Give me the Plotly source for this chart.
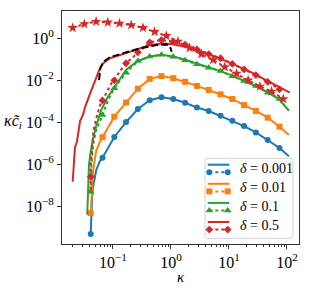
import numpy as np
import plotly.graph_objects as go

# ---------------- data ----------------
kappa_grid = [0.0413, 0.0659, 0.1054, 0.168, 0.269, 0.430, 0.686, 1.096, 1.75,
              2.80, 4.47, 7.14, 11.4, 18.2, 29.1, 46.5, 74.3]

# delta = 0.001
blue_line_k = [0.0413, 0.0418, 0.0422, 0.0435, 0.0452, 0.048, 0.0515, 0.059,
               0.0659, 0.1054, 0.168, 0.269, 0.430, 0.686, 1.096, 1.75, 2.80,
               4.47, 7.14, 11.4, 18.2, 29.1, 46.5, 74.3, 108]
blue_line = [4.8e-10, 1.58e-9, 6.8e-9, 2.5e-8, 7.9e-8, 2.5e-7, 5.4e-7, 1.35e-6,
             2.04e-6, 2.0e-5, 1.02e-4, 4.27e-4, 1.12e-3, 1.55e-3, 1.29e-3, 8.5e-4,
             5.1e-4, 3.47e-4, 2.04e-4, 1.2e-4, 6.6e-5, 3.3e-5, 1.45e-5, 6.0e-6, 2.4e-6]
blue_mark = [4.8e-10, 2.04e-6, 2.0e-5, 1.02e-4, 4.27e-4, 1.12e-3, 1.55e-3, 1.29e-3,
             8.5e-4, 5.1e-4, 3.47e-4, 2.04e-4, 1.2e-4, 6.6e-5, 3.3e-5, 1.45e-5, 6.0e-6]

# delta = 0.01
orange_line_k = [0.0413, 0.0422, 0.0435, 0.0452, 0.048, 0.0515, 0.059,
                 0.0659, 0.1054, 0.168, 0.269, 0.430, 0.686, 1.096, 1.75, 2.80,
                 4.47, 7.14, 11.4, 18.2, 29.1, 46.5, 74.3, 108]
orange_line = [4.7e-9, 1.5e-8, 7.9e-8, 4.0e-7, 1.4e-6, 4.5e-6, 1.12e-5,
               1.95e-5, 1.86e-4, 8.7e-4, 3.98e-3, 1.17e-2, 1.58e-2, 1.26e-2, 8.5e-3,
               5.4e-3, 3.47e-3, 2.14e-3, 1.29e-3, 6.6e-4, 3.47e-4, 1.66e-4, 6.2e-5, 2.5e-5]
orange_mark = [4.7e-9, 1.95e-5, 1.86e-4, 8.7e-4, 3.98e-3, 1.17e-2, 1.58e-2, 1.26e-2,
               8.5e-3, 5.4e-3, 3.47e-3, 2.14e-3, 1.29e-3, 6.6e-4, 3.47e-4, 1.66e-4, 6.2e-5]

# delta = 0.1
green_line_k = [0.036, 0.0371, 0.0386, 0.0413, 0.0452, 0.0515, 0.0628, 0.082, 0.107,
                0.139, 0.1695, 0.269, 0.430, 0.686, 1.096, 1.75, 2.80, 4.47, 7.14,
                11.4, 18.2, 29.1, 46.5, 74.3, 108]
green_line = [4.0e-9, 1.0e-7, 1.0e-6, 4.0e-6, 1.58e-5, 7.1e-5, 3.9e-4, 1.66e-3, 5.0e-3,
              1.48e-2, 3.16e-2, 8.3e-2, 0.135, 0.166, 0.138, 9.5e-2, 6.3e-2, 4.17e-2,
              2.75e-2, 1.66e-2, 9.5e-3, 5.2e-3, 2.63e-3, 1.2e-3, 3.55e-4]
green_dot_k = [0.0413, 0.0426, 0.0452, 0.051, 0.0659, 0.082, 0.1054, 0.168, 0.269,
               0.430, 0.686, 1.096, 1.75, 2.80, 4.47, 7.14, 11.4, 18.2, 29.1, 46.5, 74.3]
green_dot = [5.0e-8, 1.0e-6, 7.9e-6, 4.0e-5, 2.24e-4, 1.12e-3, 4.2e-3, 2.29e-2, 8.3e-2,
             0.135, 0.166, 0.132, 9.1e-2, 5.75e-2, 3.98e-2, 2.75e-2, 1.58e-2, 9.3e-3,
             5.4e-3, 2.57e-3, 1.29e-3]
green_mark = [5.0e-8, 2.24e-4, 4.2e-3, 2.29e-2, 8.3e-2, 0.135, 0.166, 0.132, 9.1e-2,
              5.75e-2, 3.98e-2, 2.75e-2, 1.58e-2, 9.3e-3, 5.4e-3, 2.57e-3, 1.29e-3]

# delta = 0.5
red_line_k = [0.0202, 0.0207, 0.0213, 0.0221, 0.024, 0.027, 0.0308, 0.0328, 0.0401,
              0.0457, 0.0523, 0.0562, 0.0597, 0.068, 0.0887, 0.132, 0.224, 0.406,
              0.692, 1.028, 1.74, 3.38, 5.74, 10.4, 23.0, 50.9, 112.0]
red_line = [1.48e-7, 6.3e-7, 1.58e-6, 6.3e-6, 1.26e-5, 1.12e-4, 2.5e-4, 5.0e-4, 2.24e-3,
            6.3e-3, 1.48e-2, 2.5e-2, 3.7e-2, 6.5e-2, 0.112, 0.158, 0.263, 0.457,
            0.562, 0.537, 0.398, 0.229, 0.132, 6.9e-2, 2.57e-2, 8.5e-3, 2.6e-3]
red_dot_k = [0.0410, 0.0413, 0.0418, 0.044, 0.0457, 0.0523, 0.0597, 0.0659, 0.082,
             0.0938, 0.1054, 0.13, 0.168, 0.269, 0.430, 0.686, 1.096, 1.75, 2.80,
             4.47, 7.14, 11.4, 18.2, 29.1, 46.5, 74.3]
red_dot = [6.3e-8, 2.57e-7, 1.32e-6, 6.9e-6, 3.5e-5, 1.86e-4, 6.3e-4, 1.1e-3, 3.5e-3,
           7.2e-3, 1.0e-2, 2.57e-2, 6.5e-2, 0.214, 0.646, 0.83, 0.69, 0.50, 0.295,
           0.178, 0.112, 6.0e-2, 3.3e-2, 1.78e-2, 8.5e-3, 3.7e-3]
red_mark = [2.57e-7, 1.1e-3, 1.0e-2, 6.5e-2, 0.214, 0.646, 0.83, 0.69, 0.50, 0.295,
            0.178, 0.112, 6.0e-2, 3.3e-2, 1.78e-2, 8.5e-3, 3.7e-3]

# extra delta = 0.5 series (stars) and black dashed curve
star_k = [0.0202, 0.0321, 0.0512, 0.0813, 0.1295, 0.206, 0.328, 0.521, 0.83, 1.32,
          2.10, 3.34, 5.32, 8.47, 13.5, 21.4, 34.1, 54.2, 86.3]
star_y = [3.16, 4.8, 6.2, 5.75, 5.1, 4.27, 3.16, 2.04, 1.32, 0.71, 0.347, 0.178,
          9.3e-2, 4.27e-2, 2.09e-2, 1.0e-2, 5.1e-3, 2.95e-3, 1.29e-3]
black_k = [0.0574, 0.059, 0.0609, 0.068, 0.0887, 0.151, 0.292, 0.567, 0.843, 0.962, 1.028]
black_y = [1.02e-2, 2.5e-2, 4.0e-2, 7.6e-2, 0.126, 0.195, 0.331, 0.479, 0.513, 0.398, 0.229]

legend_labels = ["0.001", "0.01", "0.1", "0.5"]
colors = ["#1f77b4", "#ff7f0e", "#2ca02c", "#d62728"]
symbols = ["circle", "square", "triangle-up", "diamond"]
msizes = [6, 6, 7, 6]

x_ticks = [0.1, 1, 10, 100]
x_ticktext = ["10<sup>−1</sup>", "10<sup>0</sup>", "10<sup>1</sup>", "10<sup>2</sup>"]
y_ticks = [1, 1e-2, 1e-4, 1e-6, 1e-8]
y_ticktext = ["10<sup>0</sup>", "10<sup>−2</sup>", "10<sup>−4</sup>", "10<sup>−6</sup>", "10<sup>−8</sup>"]

# ---------------- figure ----------------
W, H = 312, 288
L, R, T, B = 62, 13, 11, 44
FONT = "Liberation Serif"

fig = go.Figure()

def solid(k, y, c):
    fig.add_trace(go.Scatter(x=k, y=y, mode="lines", line=dict(color=c, width=2),
                             showlegend=False, hoverinfo="skip"))

def dotted(k, y, c):
    fig.add_trace(go.Scatter(x=k, y=y, mode="lines", line=dict(color=c, width=2, dash="dot"),
                             showlegend=False, hoverinfo="skip"))

def marks(k, y, c, sym, s):
    fig.add_trace(go.Scatter(x=k, y=y, mode="markers",
                             marker=dict(color=c, symbol=sym, size=s, line=dict(width=0)),
                             showlegend=False, hoverinfo="skip"))

solid(blue_line_k, blue_line, colors[0])
marks(kappa_grid, blue_mark, colors[0], symbols[0], msizes[0])
solid(orange_line_k, orange_line, colors[1])
marks(kappa_grid, orange_mark, colors[1], symbols[1], msizes[1])
solid(green_line_k, green_line, colors[2])
dotted(green_dot_k, green_dot, colors[2])
marks(kappa_grid, green_mark, colors[2], symbols[2], msizes[2])
solid(red_line_k, red_line, colors[3])
dotted(red_dot_k, red_dot, colors[3])
marks(kappa_grid, red_mark, colors[3], symbols[3], msizes[3])
fig.add_trace(go.Scatter(x=star_k, y=star_y, mode="lines+markers",
                         line=dict(color=colors[3], width=2, dash="dot"),
                         marker=dict(color=colors[3], symbol="star", size=8, line=dict(width=0)),
                         showlegend=False, hoverinfo="skip"))
fig.add_trace(go.Scatter(x=black_k, y=black_y, mode="lines",
                         line=dict(color="black", width=2, dash="7px,3px"),
                         showlegend=False, hoverinfo="skip"))

# ---------------- hand-drawn legend (overlay axes in pixel-like units) ----------------
pw, ph = W - L - R, H - T - B
def u(px):
    return (px - L) / pw
def v(py):
    return (H - B - py) / ph

bx0, bx1, by0, by1, rr = u(205), u(293), v(238.3), v(158.3), 3.0
rx, ry = rr / pw, rr / ph
path = (f"M {bx0+rx},{by0} L {bx1-rx},{by0} Q {bx1},{by0} {bx1},{by0+ry} "
        f"L {bx1},{by1-ry} Q {bx1},{by1} {bx1-rx},{by1} L {bx0+rx},{by1} "
        f"Q {bx0},{by1} {bx0},{by1-ry} L {bx0},{by0+ry} Q {bx0},{by0} {bx0+rx},{by0} Z")
fig.add_shape(type="path", path=path, xref="paper", yref="paper", layer="below",
              fillcolor="rgba(255,255,255,0.8)", line=dict(color="#d4d4d4", width=1))

centers = [168.3, 187.4, 206.5, 225.6]
for i, lab in enumerate(legend_labels):
    cy = centers[i]
    fig.add_trace(go.Scatter(x=[u(207.7), u(229.3)], y=[v(cy - 3.6), v(cy - 3.6)],
                             xaxis="x2", yaxis="y2", mode="lines",
                             line=dict(color=colors[i], width=2),
                             showlegend=False, hoverinfo="skip"))
    fig.add_trace(go.Scatter(x=[u(209.3), u(227.7)], y=[v(cy + 4), v(cy + 4)],
                             xaxis="x2", yaxis="y2", mode="lines+markers",
                             line=dict(color=colors[i], width=2, dash="dot"),
                             marker=dict(color=colors[i], symbol=symbols[i], size=msizes[i]),
                             showlegend=False, hoverinfo="skip"))
    fig.add_annotation(x=u(238), y=v(cy), xref="paper", yref="paper",
                       text=f"<i>δ</i> = {lab}", showarrow=False,
                       xanchor="left", yanchor="middle",
                       font=dict(family=FONT, size=14, color="black"))

# axis labels
fig.add_annotation(x=u(181), y=v(277), xref="paper", yref="paper", text="<i>κ</i>",
                   showarrow=False, xanchor="center", yanchor="middle",
                   font=dict(family=FONT, size=15, color="black"))
fig.add_annotation(x=u(13), y=v(122), xref="paper", yref="paper",
                   text="<i>κc̃</i><sub><i>i</i></sub>",
                   showarrow=False, xanchor="center", yanchor="middle",
                   font=dict(family=FONT, size=16, color="black"))

axis_common = dict(showgrid=False, zeroline=False, showline=True, linecolor="#333",
                   linewidth=1, mirror=True, ticks="outside", ticklen=4, tickwidth=1,
                   tickcolor="#333", tickfont=dict(family=FONT, size=16, color="black"))

fig.update_layout(
    width=W, height=H, margin=dict(l=L, r=R, t=T, b=B),
    paper_bgcolor="white", plot_bgcolor="white", showlegend=False,
    hovermode=False,
    xaxis=dict(type="log", range=[-1.879, 2.207], tickvals=x_ticks, ticktext=x_ticktext,
               minor=dict(ticks="outside", ticklen=2, tickcolor="#333", dtick="D1"),
               **axis_common),
    yaxis=dict(type="log", range=[-9.795, 1.30], tickvals=y_ticks, ticktext=y_ticktext,
               **axis_common),
    xaxis2=dict(overlaying="x", anchor="y2", range=[0, 1], visible=False),
    yaxis2=dict(overlaying="y", anchor="x2", range=[0, 1], visible=False),
)

fig.write_html("out.html", config={"displayModeBar": False, "staticPlot": True},
               post_script="document.body.style.margin='0px';"
                           "document.body.style.overflow='hidden';")
